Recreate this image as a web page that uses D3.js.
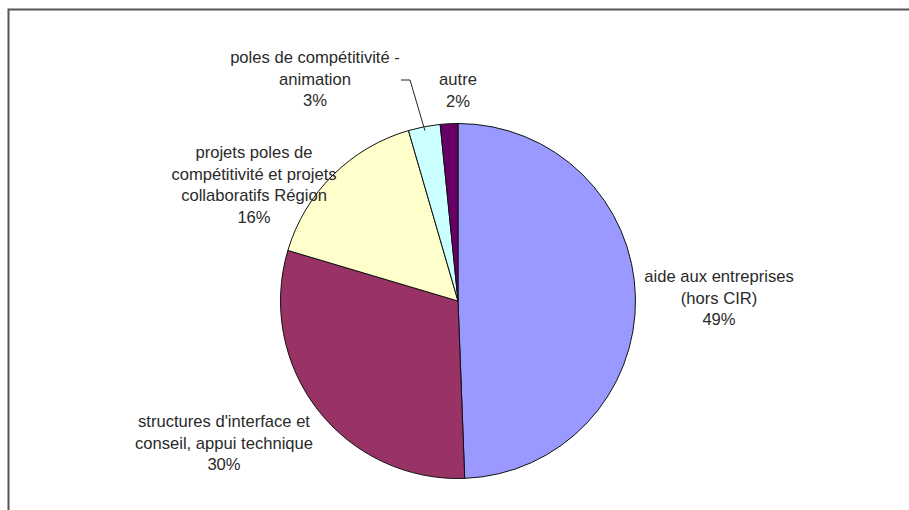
<!DOCTYPE html>
<html><head><meta charset="utf-8">
<script src="https://cdn.jsdelivr.net/npm/d3@7"></script>
<style>body{margin:0;background:#fff}svg{display:block}</style>
</head><body>
<svg id="c" width="909" height="510"></svg>
<script>
const categories = ["aide aux entreprises (hors CIR)", "structures d'interface et conseil, appui technique", "projets poles de compétitivité et projets collaboratifs Région", "poles de compétitivité - animation", "autre"];
const values = [49.4, 30.2, 15.9, 2.9, 1.6];
const labelLines = [
  ["aide aux entreprises", "(hors CIR)"],
  ["structures d'interface et", "conseil, appui technique"],
  ["projets poles de", "compétitivité et projets", "collaboratifs Région"],
  ["poles de compétitivité -", "animation"],
  ["autre"]
];
const colors = ["#9999FF", "#993366", "#FFFFCC", "#CCFFFF", "#660066"];

const svg = d3.select("#c");
// frame
svg.append("path").attr("d", "M8.5,510 L8.5,9.5 L909,9.5").attr("fill", "none").attr("stroke", "#555").attr("stroke-width", 2);

const cx = 458, cy = 301, r = 177.5;
const g = svg.append("g").attr("transform", `translate(${cx},${cy})`);
const pie = d3.pie().sort(null).value(d => d)(values);
const arc = d3.arc().innerRadius(0).outerRadius(r);
g.selectAll("path.s").data(pie).join("path").attr("class", "s")
  .attr("d", arc).attr("fill", (d, i) => colors[i]).attr("stroke", "#111").attr("stroke-width", 1);

// label anchors (centre x, first baseline y)
const labelPos = [[719, 282], [224, 427], [254, 158], [315, 63], [458, 85]];
const lh = 21.7;
labelLines.forEach((lines, i) => {
  const t = svg.append("text").attr("text-anchor", "middle")
    .attr("font-family", "Liberation Sans, Arial, sans-serif").attr("font-size", 16.6).attr("fill", "#2a2a2a");
  const all = lines.concat([Math.round(values[i]) + "%"]);
  all.forEach((s, k) => t.append("tspan").attr("x", labelPos[i][0]).attr("y", labelPos[i][1] + k * lh).text(s));
});

// leader line for small slice
const mid = (pie[3].startAngle + pie[3].endAngle) / 2;
const px = cx + Math.sin(mid) * (r - 4), py = cy - Math.cos(mid) * (r - 4);
svg.append("polyline").attr("points", `401,80 410,80 ${px},${py}`).attr("fill", "none").attr("stroke", "#222").attr("stroke-width", 1);
</script>
</body></html>
